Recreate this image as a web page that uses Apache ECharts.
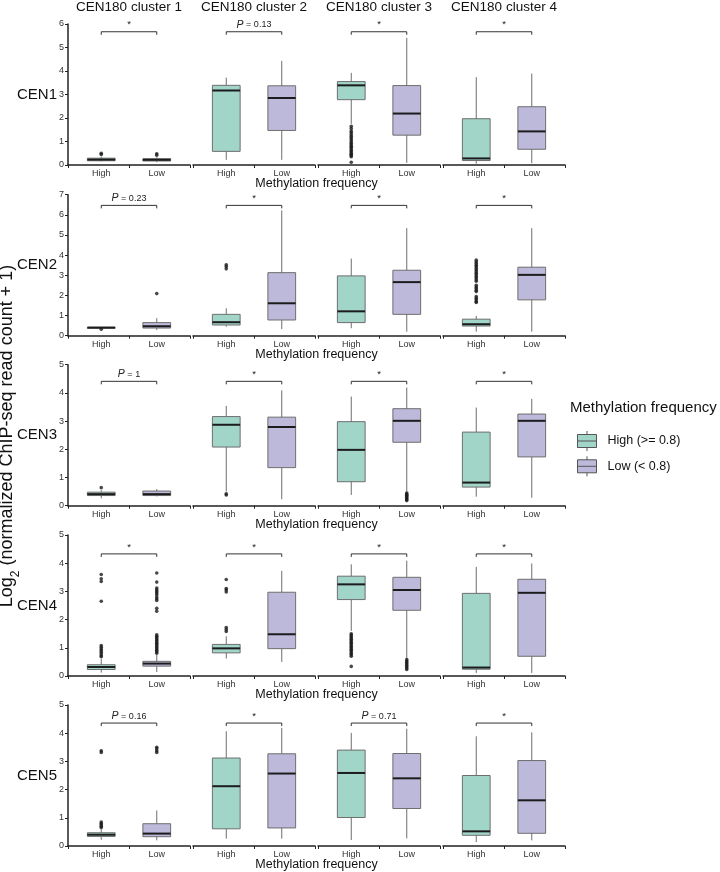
<!DOCTYPE html>
<html><head><meta charset="utf-8">
<script src="https://cdn.jsdelivr.net/npm/echarts@6/dist/echarts.min.js"></script>
<style>html,body{margin:0;padding:0;background:#fff}#c{width:720px;height:872px}</style>
</head><body><div id="c"></div>
<script>
// ---------------- DATA ----------------
const clusters = ['CEN180 cluster 1', 'CEN180 cluster 2', 'CEN180 cluster 3', 'CEN180 cluster 4'];
const rowNames = ['CEN1', 'CEN2', 'CEN3', 'CEN4', 'CEN5'];
const categories = ['High', 'Low'];
const seriesNames = ['High (>= 0.8)', 'Low (< 0.8)'];
const yMax = [6, 7, 5, 5, 5];
const yAxisTitle = 'Log2 (normalized ChIP-seq read count + 1)';
const xAxisTitle = 'Methylation frequency';
const legendTitle = 'Methylation frequency';

// each box: [lower whisker, Q1, median, Q3, upper whisker]; per cluster: [High, Low]
const cen1Boxes = [
  [[0.15, 0.18, 0.23, 0.29, 0.35], [0.12, 0.17, 0.22, 0.27, 0.33]],
  [[0.22, 0.58, 3.17, 3.39, 3.72], [0.22, 1.47, 2.85, 3.37, 4.43]],
  [[1.75, 2.78, 3.39, 3.55, 3.92], [0.09, 1.27, 2.19, 3.38, 5.41]],
  [[0.06, 0.19, 0.28, 1.97, 3.74], [0.08, 0.67, 1.43, 2.48, 3.89]]
];
const cen2Boxes = [
  [[0.36, 0.37, 0.40, 0.42, 0.43], [0.28, 0.38, 0.47, 0.65, 0.87]],
  [[0.45, 0.53, 0.67, 1.06, 1.36], [0.33, 0.78, 1.61, 3.13, 6.22]],
  [[0.37, 0.65, 1.21, 2.97, 3.83], [0.20, 1.06, 2.66, 3.25, 5.34]],
  [[0.20, 0.48, 0.57, 0.82, 0.98], [0.20, 1.78, 3.02, 3.40, 5.34]]
];
const cen3Boxes = [
  [[0.26, 0.36, 0.41, 0.48, 0.55], [0.33, 0.36, 0.41, 0.52, 0.59]],
  [[0.50, 2.08, 2.87, 3.16, 3.54], [0.23, 1.35, 2.79, 3.14, 4.09]],
  [[0.38, 0.85, 1.98, 2.98, 3.87], [0.50, 2.25, 3.01, 3.44, 4.19]],
  [[0.32, 0.66, 0.82, 2.61, 3.48], [0.28, 1.73, 3.01, 3.25, 3.79]]
];
const cen4Boxes = [
  [[0.12, 0.23, 0.32, 0.40, 0.60], [0.14, 0.35, 0.44, 0.52, 0.75]],
  [[0.62, 0.82, 0.98, 1.12, 1.41], [0.50, 0.97, 1.48, 2.97, 3.73]],
  [[1.60, 2.71, 3.25, 3.54, 3.96], [0.62, 2.33, 3.05, 3.50, 4.09]],
  [[0.11, 0.24, 0.30, 2.93, 3.87], [0.11, 0.70, 2.95, 3.43, 3.99]]
];
const cen5Boxes = [
  [[0.22, 0.34, 0.40, 0.47, 0.58], [0.20, 0.33, 0.44, 0.79, 1.26]],
  [[0.26, 0.61, 2.12, 3.12, 4.07], [0.26, 0.64, 2.57, 3.27, 4.19]],
  [[0.21, 1.01, 2.59, 3.40, 4.01], [0.27, 1.33, 2.40, 3.28, 4.16]],
  [[0.14, 0.38, 0.52, 2.50, 3.89], [0.20, 0.45, 1.62, 3.03, 4.03]]
];

// outliers per cluster: [High, Low]
const cen1Outliers = [
  [[0.45, 0.50], [0.42, 0.48]],
  [[], []],
  [[1.65, 1.55, 1.45, 1.38, 1.30, 1.22, 1.15, 1.08, 1.00, 0.93, 0.86, 0.80, 0.74, 0.68, 0.62, 0.56, 0.50, 0.45, 0.40, 0.35, 0.12], []],
  [[], []]
];
const cen2Outliers = [
  [[0.32], [2.09]],
  [[3.52, 3.43, 3.32], []],
  [[], []],
  [[3.75, 3.66, 3.58, 3.50, 3.42, 3.34, 3.26, 3.18, 3.10, 3.02, 2.94, 2.86, 2.78, 2.70, 2.50, 2.42, 2.34, 2.26, 2.19, 1.94, 1.86, 1.78, 1.70, 1.65], []]
];
const cen3Outliers = [
  [[0.64], []],
  [[0.42, 0.38], []],
  [[], [0.45, 0.41, 0.37, 0.33, 0.29, 0.25, 0.21, 0.18]],
  [[], []]
];
const cen4Outliers = [
  [[3.60, 3.45, 3.35, 2.65, 1.08, 1.02, 0.96, 0.90, 0.84, 0.78, 0.72, 0.68],
   [3.65, 3.33, 3.12, 3.06, 3.00, 2.94, 2.88, 2.80, 2.74, 2.68, 2.40, 2.30, 1.46, 1.41, 1.36, 1.31, 1.26, 1.21, 1.16, 1.11, 1.06, 1.01, 0.96, 0.91, 0.86, 0.81]],
  [[3.42, 3.10, 3.05, 2.98, 1.72, 1.65, 1.58], []],
  [[1.50, 1.45, 1.40, 1.35, 1.30, 1.25, 1.20, 1.15, 1.10, 1.05, 1.00, 0.95, 0.90, 0.85, 0.80, 0.75, 0.70, 0.34],
   [0.58, 0.53, 0.48, 0.43, 0.38, 0.33, 0.28, 0.23]],
  [[], []]
];
const cen5Outliers = [
  [[3.38, 3.32, 0.85, 0.80, 0.75, 0.70, 0.65], [3.50, 3.45, 3.38, 3.32]],
  [[], []],
  [[], []],
  [[], []]
];

// significance labels per cluster and bracket height per row
const cen1Tests = ['*', 'P = 0.13', '*', '*'];
const cen2Tests = ['P = 0.23', '*', '*', '*'];
const cen3Tests = ['P = 1', '*', '*', '*'];
const cen4Tests = ['*', '*', '*', '*'];
const cen5Tests = ['P = 0.16', '*', 'P = 0.71', '*'];
const bracketLevels = [5.67, 6.47, 4.41, 4.33, 4.36];

// ---------------- LAYOUT / STYLE ----------------
const FONT = '"Liberation Sans", Arial, sans-serif';
const COL_LEFT = 68, COL_STEP = 125, COL_W = 122, INSET = 5.5;
const ROW_TOP = [24, 194.7, 364.7, 535, 705], ROW_H = 141;
const fillColors = ['#a0d5c8', '#bdb9db'];
const AXIS_COLOR = '#222';

const rows = rowNames.map((name, r) => ({
  name,
  boxes: [cen1Boxes, cen2Boxes, cen3Boxes, cen4Boxes, cen5Boxes][r],
  outliers: [cen1Outliers, cen2Outliers, cen3Outliers, cen4Outliers, cen5Outliers][r],
  tests: [cen1Tests, cen2Tests, cen3Tests, cen4Tests, cen5Tests][r]
}));

function renderBox(params, api) {
  const x = api.value(0);
  const lo = api.coord([x, api.value(1)]);
  const q1 = api.coord([x, api.value(2)]);
  const md = api.coord([x, api.value(3)]);
  const q3 = api.coord([x, api.value(4)]);
  const hi = api.coord([x, api.value(5)]);
  const w = api.size([1, 0])[0] * 0.5;
  const cx = lo[0];
  return {
    type: 'group',
    children: [
      { type: 'line', shape: { x1: cx, y1: hi[1], x2: cx, y2: lo[1] }, style: { stroke: '#6e6e6e', lineWidth: 1 } },
      { type: 'rect', shape: { x: cx - w / 2, y: q3[1], width: w, height: Math.max(q1[1] - q3[1], 0.5) },
        style: { fill: api.visual('color'), stroke: '#6e6e6e', lineWidth: 1 } },
      { type: 'line', shape: { x1: cx - w / 2, y1: md[1], x2: cx + w / 2, y2: md[1] }, style: { stroke: '#1c1c1c', lineWidth: 2 } }
    ]
  };
}

function makeBracket(label) {
  return function (params, api) {
    const yv = api.value(0);
    const a = api.coord([0, yv]);
    const b = api.coord([1, yv]);
    const t = 3;
    const mx = (a[0] + b[0]) / 2;
    let textEl;
    if (label.indexOf('P') === 0) {
      textEl = {
        type: 'text', x: mx, y: a[1] - 1.5,
        style: {
          text: '{i|P}{n|' + label.slice(1) + '}',
          rich: {
            i: { fontStyle: 'italic', fontSize: 10.5, fontFamily: FONT, fill: '#222' },
            n: { fontSize: 9, fontFamily: FONT, fill: '#222' }
          },
          align: 'center', verticalAlign: 'bottom', textAlign: 'center', textVerticalAlign: 'bottom'
        }
      };
    } else {
      textEl = {
        type: 'text', x: mx, y: a[1] - 2,
        style: { text: label, font: '9.5px ' + FONT, fill: '#222',
          align: 'center', verticalAlign: 'bottom', textAlign: 'center', textVerticalAlign: 'bottom' }
      };
    }
    return {
      type: 'group',
      children: [
        { type: 'polyline', shape: { points: [[a[0], a[1] + t], [a[0], a[1]], [b[0], b[1]], [b[0], b[1] + t]] },
          style: { stroke: '#333', lineWidth: 1, fill: null } },
        textEl
      ]
    };
  };
}

const grids = [], xAxes = [], yAxes = [], series = [], graphics = [];

rows.forEach((row, r) => {
  const top = ROW_TOP[r];
  clusters.forEach((cl, c) => {
    const left = COL_LEFT + COL_STEP * c;
    // outer grid: visible axis lines
    grids.push({ left, top, width: COL_W, height: ROW_H, containLabel: false, outerBoundsMode: 'none' });
    const og = grids.length - 1;
    xAxes.push({
      gridIndex: og, type: 'category', data: categories, boundaryGap: true,
      axisLine: { show: true, lineStyle: { color: AXIS_COLOR, width: 1.5 } },
      axisTick: { show: true, length: 3, lineStyle: { color: AXIS_COLOR, width: 1 } },
      axisLabel: { show: false }, splitLine: { show: false }
    });
    yAxes.push({
      gridIndex: og, type: 'value', min: 0, max: yMax[r], interval: 1, show: c === 0,
      axisLine: { show: true, lineStyle: { color: AXIS_COLOR, width: 1.5 } },
      axisTick: { show: true, length: 3, lineStyle: { color: AXIS_COLOR, width: 1 } },
      axisLabel: { fontSize: 9, color: '#333', margin: 4, fontFamily: FONT },
      splitLine: { show: false }
    });
    // inner grid: data area (ggplot-like discrete expansion)
    grids.push({ left: left + INSET, top, width: COL_W - 2 * INSET, height: ROW_H, containLabel: false, outerBoundsMode: 'none' });
    const ig = grids.length - 1;
    xAxes.push({
      gridIndex: ig, type: 'category', data: categories, boundaryGap: true,
      axisLine: { show: false }, axisTick: { show: false }, splitLine: { show: false },
      axisLabel: { fontSize: 9, color: '#333', margin: 4, fontFamily: FONT, interval: 0 }
    });
    yAxes.push({ gridIndex: ig, type: 'value', min: 0, max: yMax[r], show: false, splitLine: { show: false } });
    const xi = xAxes.length - 1, yi = yAxes.length - 1;

    [0, 1].forEach(k => {
      series.push({
        type: 'custom', name: seriesNames[k], xAxisIndex: xi, yAxisIndex: yi,
        itemStyle: { color: fillColors[k] },
        data: [[k].concat(row.boxes[c][k])],
        encode: { x: 0, y: [1, 2, 3, 4, 5] },
        renderItem: renderBox, z: 2, silent: true
      });
    });
    const pts = [];
    [0, 1].forEach(k => row.outliers[c][k].forEach(v => pts.push([k, v])));
    series.push({
      type: 'scatter', xAxisIndex: xi, yAxisIndex: yi, symbol: 'circle', symbolSize: 3.6,
      itemStyle: { color: '#1a1a1a' }, data: pts, z: 3, silent: true
    });
    series.push({
      type: 'custom', xAxisIndex: xi, yAxisIndex: yi, data: [[bracketLevels[r]]],
      encode: { y: 0 }, renderItem: makeBracket(row.tests[c]), z: 4, silent: true, clip: false
    });

    if (r === 0) {
      graphics.push({ type: 'text', x: left + COL_W / 2, y: 7.5,
        style: { text: cl, font: '13.5px ' + FONT, fill: '#111', align: 'center', verticalAlign: 'middle',
          textAlign: 'center', textVerticalAlign: 'middle' } });
    }
  });
  graphics.push({ type: 'text', x: 57, y: top + ROW_H / 2,
    style: { text: row.name, font: '15px ' + FONT, fill: '#111', align: 'right', verticalAlign: 'middle',
      textAlign: 'right', textVerticalAlign: 'middle' } });
  graphics.push({ type: 'text', x: 316.5, y: top + ROW_H + 18.5,
    style: { text: xAxisTitle, font: '12.5px ' + FONT, fill: '#111', align: 'center', verticalAlign: 'middle',
      textAlign: 'center', textVerticalAlign: 'middle' } });
});

graphics.push({
  type: 'text', x: 10, y: 436, rotation: Math.PI / 2,
  style: {
    text: '{a|' + yAxisTitle.slice(0, 3) + '}{s|' + yAxisTitle.slice(3, 4) + '}{a|' + yAxisTitle.slice(4) + '}',
    rich: {
      a: { fontSize: 18, lineHeight: 24, verticalAlign: 'top', fontFamily: FONT, fill: '#111' },
      s: { fontSize: 12, lineHeight: 12, verticalAlign: 'bottom', fontFamily: FONT, fill: '#111' }
    },
    align: 'center', verticalAlign: 'middle', textAlign: 'center', textVerticalAlign: 'middle'
  }
});
graphics.push({ type: 'text', x: 570, y: 408,
  style: { text: legendTitle, font: '15px ' + FONT, fill: '#111', align: 'left', verticalAlign: 'middle',
    textAlign: 'left', textVerticalAlign: 'middle' } });

const option = {
  animation: false,
  backgroundColor: '#fff',
  grid: grids,
  xAxis: xAxes,
  yAxis: yAxes,
  series: series,
  graphic: graphics,
  legend: {
    data: seriesNames, orient: 'vertical', left: 572, top: 425.5,
    itemWidth: 19, itemHeight: 20, itemGap: 4.3, selectedMode: false,
    icon: 'path://M9.5,0L9.5,3.5M9.5,16.5L9.5,20M0,3.5L19,3.5L19,16.5L0,16.5ZM0,10L19,10',
    itemStyle: { borderColor: '#555', borderWidth: 1 },
    textStyle: { fontSize: 12.5, color: '#111', fontFamily: FONT, padding: [0, 0, 0, 6] }
  }
};

const chart = echarts.init(document.getElementById('c'), null, { renderer: 'canvas' });
chart.setOption(option);
</script>
</body></html>
